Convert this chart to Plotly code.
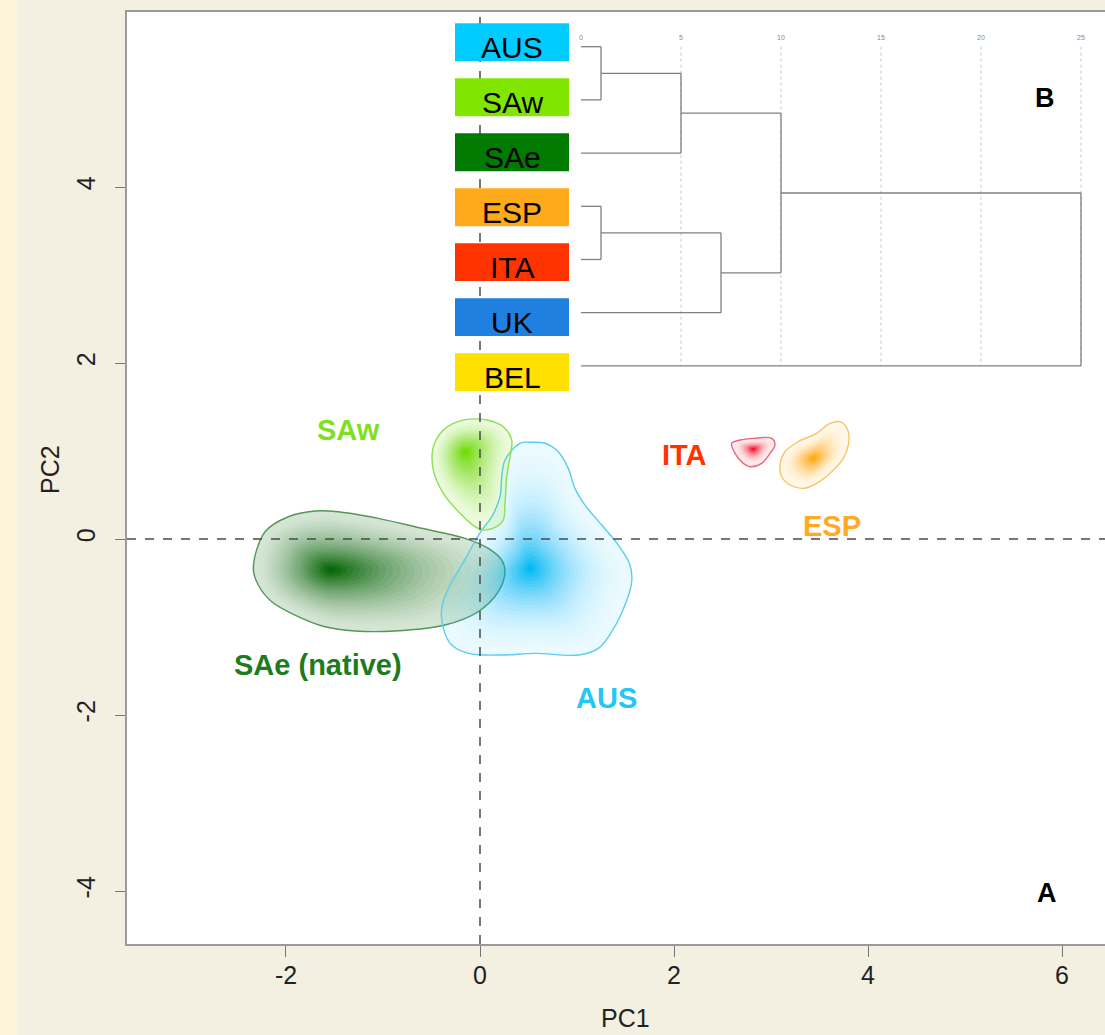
import numpy as np
import plotly.graph_objects as go

# ---------------- data ----------------
# PCA density outlines (PC1, PC2)
sae_x = [-2.337, -2.216, -1.976, -1.701, -1.461, -1.048, -0.601, -0.155, 0.086, 0.224, 0.258, 0.189,
         -0.018, -0.361, -0.876, -1.289, -1.598, -1.907, -2.147, -2.286]
sae_y = [-0.333, 0.083, 0.253, 0.318, 0.310, 0.235, 0.122, 0.008, -0.106, -0.239, -0.372, -0.599,
         -0.826, -0.977, -1.045, -1.045, -0.997, -0.864, -0.713, -0.523]
sae_center = (-1.546, -0.352)
sae_core = (1.4, 0.6)

aus_x = [0.533, 0.412, 0.258, 0.224, 0.206, 0.121, 0.018, -0.034, -0.189, -0.327, -0.395, -0.378, -0.292,
         -0.121, 0.224, 0.567, 1.013, 1.220, 1.358, 1.495, 1.564, 1.546, 1.426, 1.255, 1.082, 0.979,
         0.910, 0.807, 0.670]
aus_y = [1.099, 1.088, 0.898, 0.708, 0.481, 0.253, 0.102, 0.008, -0.295, -0.560, -0.788, -1.015, -1.205,
         -1.299, -1.318, -1.299, -1.318, -1.242, -1.053, -0.750, -0.485, -0.295, -0.068, 0.159, 0.386,
         0.576, 0.803, 0.992, 1.088]
aus_center = (0.515, -0.333)
aus_core = (0.75, 0.85)

saw_x = [-0.137, 0.069, 0.240, 0.327, 0.309, 0.275, 0.258, 0.240, 0.172, 0.034, -0.052, -0.206, -0.378,
         -0.481, -0.481, -0.378, -0.275]
saw_y = [1.360, 1.352, 1.276, 1.125, 0.935, 0.708, 0.406, 0.216, 0.140, 0.102, 0.140, 0.292, 0.519,
         0.784, 1.049, 1.239, 1.315]
saw_center = (-0.155, 0.992)
saw_core = (0.45, 0.6)

ita_x = [2.595, 2.680, 2.818, 3.007, 3.041, 2.990, 2.904, 2.784, 2.714, 2.629]
ita_y = [1.088, 1.125, 1.144, 1.144, 1.068, 0.974, 0.860, 0.822, 0.860, 0.974]
ita_center = (2.818, 1.023)
ita_core = (0.2, 0.16)

esp_x = [3.093, 3.144, 3.281, 3.471, 3.608, 3.729, 3.797, 3.797, 3.745, 3.608, 3.471, 3.333, 3.196, 3.110]
esp_y = [0.841, 0.992, 1.106, 1.201, 1.315, 1.326, 1.219, 1.068, 0.917, 0.747, 0.633, 0.576, 0.614, 0.708]
esp_center = (3.436, 0.917)
esp_core = (0.35, 0.3)

group_labels = ["SAw", "SAe (native)", "AUS", "ITA", "ESP"]
group_label_x = [-1.351, -1.670, 1.299, 2.103, 3.629]
group_label_y = [1.239, -1.432, -1.807, 0.955, 0.148]

# dendrogram (panel B)
leaves = ["AUS", "SAw", "SAe", "ESP", "ITA", "UK", "BEL"]
leaf_colors = ["#00CCFF", "#80E600", "#007A00", "#FFAA1A", "#FF3300", "#1F80E0", "#FFE000"]
# (cluster a, cluster b, height); new clusters get ids 7, 8, ...
merges = [(0, 1, 1.0), (3, 4, 1.0), (7, 2, 5.0), (8, 5, 7.0), (9, 10, 10.0), (11, 6, 25.0)]
dend_ticks = [0, 5, 10, 15, 20, 25]

x_ticks = [-2, 0, 2, 4, 6]
y_ticks = [-4, -2, 0, 2, 4]

# ---------------- styles ----------------
FONT = "Liberation Sans, Arial, sans-serif"
blob_styles = [
    # x, y, center, core radii, rgb, outline, a_out, a_center, power
    (sae_x, sae_y, sae_center, sae_core, "0,100,0", "rgba(70,140,70,0.9)", 0.16, 0.97, 1.6),
    (aus_x, aus_y, aus_center, aus_core, "0,185,245", "rgba(90,205,240,1)", 0.08, 0.98, 1.9),
    (saw_x, saw_y, saw_center, saw_core, "110,220,0", "rgba(140,225,80,1)", 0.12, 0.98, 1.5),
    (ita_x, ita_y, ita_center, ita_core, "240,0,30", "rgba(240,100,120,1)", 0.08, 0.97, 2.2),
    (esp_x, esp_y, esp_center, esp_core, "255,165,0", "rgba(250,195,100,1)", 0.08, 0.95, 1.8),
]
label_colors = ["#80E020", "#1E7B1E", "#22C8F5", "#FF3300", "#FFAA22"]

fig = go.Figure()

N = 24
for xs, ys, (cx, cy), (rx, ry), rgb, oc, a_out, a_c, pw in blob_styles:
    xs = np.array(xs + [xs[0]])
    ys = np.array(ys + [ys[0]])
    ddx, ddy = xs - cx, ys - cy
    dist = np.hypot(ddx, ddy)
    th = np.arctan2(ddy, ddx)
    ell = 1.0 / np.sqrt((np.cos(th) / rx) ** 2 + (np.sin(th) / ry) ** 2)
    inner = np.minimum(dist, ell)
    prev = 0.0
    for i in range(N):
        k = 1 - i / N
        T = a_out + (a_c - a_out) * ((1 - k) / (1 - 1 / N)) ** pw
        alpha = 1 - (1 - T) / (1 - prev)
        prev = T
        r = k * (k * dist + (1 - k) * inner)
        fig.add_trace(go.Scatter(
            x=cx + r * np.cos(th), y=cy + r * np.sin(th), mode="lines", fill="toself",
            fillcolor=f"rgba({rgb},{alpha:.4f})", line=dict(width=0, shape="spline", smoothing=1.0),
            hoverinfo="skip", showlegend=False))
    fig.add_trace(go.Scatter(
        x=xs, y=ys, mode="lines", line=dict(color=oc, width=1.4, shape="spline", smoothing=1.0),
        hoverinfo="skip", showlegend=False))

# group labels
for t, x, y, c in zip(group_labels, group_label_x, group_label_y, label_colors):
    fig.add_annotation(x=x, y=y, text=f"<b>{t}</b>", showarrow=False,
                       font=dict(family=FONT, size=29, color=c))

# ---------------- dendrogram ----------------
pos = {i: float(i) for i in range(len(leaves))}
hgt = {i: 0.0 for i in range(len(leaves))}
dx, dy = [], []
nid = len(leaves)
for a, b, h in merges:
    for c in (a, b):
        dx += [hgt[c], h, None]
        dy += [pos[c], pos[c], None]
    dx += [h, h, None]
    dy += [pos[a], pos[b], None]
    pos[nid] = (pos[a] + pos[b]) / 2
    hgt[nid] = h
    nid += 1

gx, gy = [], []
for t in dend_ticks[1:]:
    gx += [t, t, None]
    gy += [0, len(leaves) - 1, None]
fig.add_trace(go.Scatter(x=gx, y=gy, mode="lines", xaxis="x2", yaxis="y2",
                         line=dict(color="#C8C8C8", width=1, dash="dot"),
                         hoverinfo="skip", showlegend=False))
fig.add_trace(go.Scatter(x=dx, y=dy, mode="lines", xaxis="x2", yaxis="y2",
                         line=dict(color="#808080", width=1.3),
                         hoverinfo="skip", showlegend=False))
fig.add_trace(go.Scatter(x=dend_ticks, y=[-0.16] * len(dend_ticks), mode="text", xaxis="x2", yaxis="y2",
                         text=[str(t) for t in dend_ticks],
                         textfont=dict(family=FONT, size=7, color="#888888"),
                         hoverinfo="skip", showlegend=False))

shapes = []
# left pale strip
shapes.append(dict(type="rect", xref="paper", yref="paper", x0=-0.14, x1=-0.1115, y0=-0.12, y1=1.05,
                   fillcolor="#FCF5DB", line=dict(width=0), layer="below"))
# dashed zero lines
shapes.append(dict(type="line", xref="x", yref="paper", x0=0, x1=0, y0=0, y1=1,
                   line=dict(color="#4A4A4A", width=1.5, dash="dash")))
shapes.append(dict(type="line", xref="paper", yref="y", x0=0, x1=1, y0=0, y1=0,
                   line=dict(color="#4A4A4A", width=1.5, dash="dash")))
# label boxes
for i, (lab, col) in enumerate(zip(leaves, leaf_colors)):
    shapes.append(dict(type="rect", xref="x2", yref="y3", x0=-6.3, x1=-0.6, y0=i - 0.345, y1=i + 0.345,
                       fillcolor=col, line=dict(width=0)))
    fig.add_annotation(xref="x2", yref="y3", x=-3.45, y=i + 0.1, text=lab, showarrow=False,
                       font=dict(family=FONT, size=30, color="black"))

fig.add_annotation(x=5.845, y=-4.02, text="<b>A</b>", showarrow=False,
                   font=dict(family=FONT, size=27, color="black"))
fig.add_annotation(x=5.825, y=5.01, text="<b>B</b>", showarrow=False,
                   font=dict(family=FONT, size=27, color="black"))

# axis titles
fig.add_annotation(xref="paper", yref="paper", x=0.510, y=-0.0794, text="PC1", showarrow=False,
                   xanchor="center", yanchor="middle",
                   font=dict(family=FONT, size=25, color="#222222"))
fig.add_annotation(xref="paper", yref="paper", x=-0.0787, y=0.5086, text="PC2", showarrow=False,
                   xanchor="center", yanchor="middle", textangle=-90,
                   font=dict(family=FONT, size=25, color="#222222"))

fig.update_layout(
    width=1105, height=1035,
    margin=dict(l=127, r=0, t=12, b=91),
    paper_bgcolor="#F3EFE1", plot_bgcolor="white",
    shapes=shapes, showlegend=False,
    xaxis=dict(range=[-3.639, 6.443], tickvals=x_ticks, ticktext=[str(v) for v in x_ticks],
               ticks="outside", ticklen=11, tickcolor="#777777", tickwidth=1.3,
               showline=True, linecolor="#9A9A9A", linewidth=2, mirror=True,
               showgrid=False, zeroline=False, ticklabelstandoff=-3,
               tickfont=dict(family=FONT, size=25, color="#222222")),
    yaxis=dict(range=[-4.602, 5.989], tickvals=y_ticks, ticktext=[str(v) for v in y_ticks],
               ticks="outside", ticklen=10, tickcolor="#777777", tickwidth=1.3, tickangle=-90,
               showline=True, linecolor="#9A9A9A", linewidth=2,
               showgrid=False, zeroline=False, ticklabelstandoff=10,
               tickfont=dict(family=FONT, size=25, color="#222222")),
    xaxis2=dict(range=[-22.7, 26.2], overlaying="x", visible=False),
    yaxis2=dict(range=[16.866, -0.652], overlaying="y", visible=False),
    yaxis3=dict(range=[16.4, -0.549], overlaying="y", visible=False),
)

fig.write_html("out.html", config={"displayModeBar": False},
               post_script="document.body.style.margin='0';")
